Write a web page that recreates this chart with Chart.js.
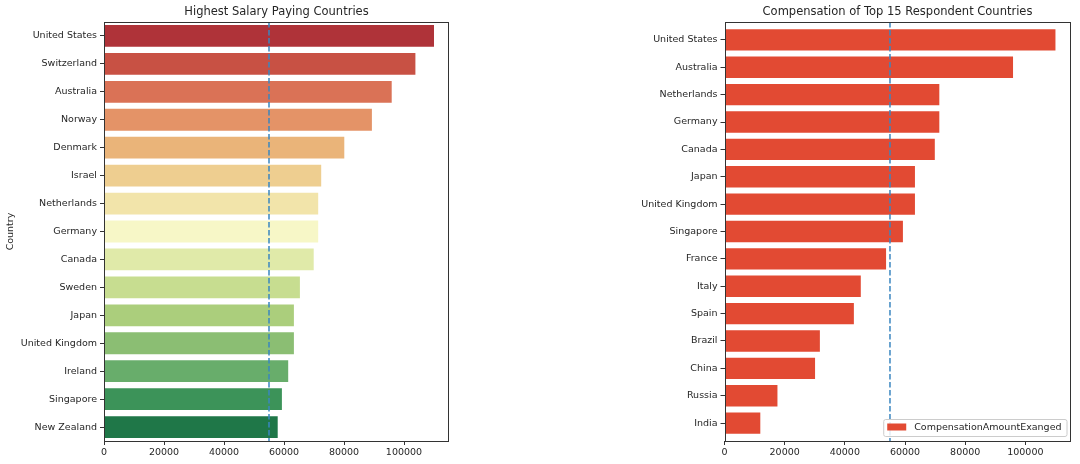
<!DOCTYPE html>
<html><head><meta charset="utf-8">
<script src="https://cdn.jsdelivr.net/npm/chart.js@4.4.0/dist/chart.umd.min.js"></script>
<style>
html,body{margin:0;padding:0;background:#fff;width:1080px;height:464px;overflow:hidden}
.box{position:absolute;top:0;width:540px;height:464px}
</style></head><body>
<div class="box" style="left:0"><canvas id="c1" width="540" height="464"></canvas></div>
<div class="box" style="left:540px"><canvas id="c2" width="540" height="464"></canvas></div>
<script>
// ---- data ----
const salaryCountries = ['United States','Switzerland','Australia','Norway','Denmark','Israel','Netherlands','Germany','Canada','Sweden','Japan','United Kingdom','Ireland','Singapore','New Zealand'];
const salaryValues = [110000,103800,95900,89300,80100,72400,71400,71400,69900,65300,63300,63300,61400,59300,57900];
const respondentCountries = ['United States','Australia','Netherlands','Germany','Canada','Japan','United Kingdom','Singapore','France','Italy','Spain','Brazil','China','Russia','India'];
const respondentValues = [110000,95900,71400,71400,69900,63300,63300,59300,53700,45300,43000,31700,30100,17600,11900];
const salaryMean = 55000;
const respondentMean = 55000;
const xTickValues = [0,20000,40000,60000,80000,100000];
const xMax = 115000;
const legendLabel = 'CompensationAmountExanged';

// ---- colours: seaborn RdYlGn palette, desaturated 0.75 ----
const rdylgn = [[165,0,38],[215,48,39],[244,109,67],[253,174,97],[254,224,139],[255,255,191],[217,239,139],[166,217,106],[102,189,99],[26,152,80],[0,104,55]];
function cmap(t){
  const x = t*10, i = Math.min(9, Math.floor(x)), f = x - i;
  return rdylgn[i].map((c,k)=> (c + (rdylgn[i+1][k]-c)*f)/255);
}
function desat(rgb, prop){
  let [r,g,b] = rgb;
  const mx=Math.max(r,g,b), mn=Math.min(r,g,b);
  let h=0,s=0,l=(mx+mn)/2;
  if(mx!==mn){
    const d=mx-mn;
    s = l<=0.5 ? d/(mx+mn) : d/(2-mx-mn);
    const rc=(mx-r)/d, gc=(mx-g)/d, bc=(mx-b)/d;
    if(r===mx) h=bc-gc; else if(g===mx) h=2+rc-bc; else h=4+gc-rc;
    h=((h/6)%1+1)%1;
  }
  s*=prop;
  function v(m1,m2,hue){hue=((hue%1)+1)%1; if(hue<1/6) return m1+(m2-m1)*hue*6; if(hue<0.5) return m2; if(hue<2/3) return m1+(m2-m1)*(2/3-hue)*6; return m1;}
  if(s===0) return [l,l,l];
  const m2 = l<=0.5 ? l*(1+s) : l+s-l*s, m1 = 2*l-m2;
  return [v(m1,m2,h+1/3), v(m1,m2,h), v(m1,m2,h-1/3)];
}
const n = salaryCountries.length;
const leftColors = salaryCountries.map((_,i)=>{
  const c = desat(cmap((i+1)/(n+1)), 0.75);
  return 'rgb('+c.map(x=>Math.round(x*255)).join(',')+')';
});

const TEXT = '#262626';
const FONT = "'DejaVu Sans', sans-serif";
Chart.defaults.font.family = FONT;
Chart.defaults.color = TEXT;
Chart.defaults.animation = false;

function framePlugin(mean, legend){
  return {
    id:'frame',
    afterDatasetsDraw(chart){
      const {ctx, chartArea:a, scales:{x}} = chart;
      const px = x.getPixelForValue(mean);
      ctx.save();
      ctx.strokeStyle = '#3a86c0';
      ctx.lineWidth = 1.5;
      ctx.setLineDash([5.5,2.5]);
      ctx.beginPath(); ctx.moveTo(px, a.top); ctx.lineTo(px, a.bottom); ctx.stroke();
      ctx.restore();
    },
    afterDraw(chart){
      const {ctx, chartArea:a} = chart;
      ctx.save();
      if(legend){
        ctx.font = '9.5px ' + FONT;
        const tw = ctx.measureText(legend).width;
        const w = tw + 4 + 19 + 8 + 5, h = 17;
        const x0 = a.right - 4 - w, y0 = a.bottom - 5 - h;
        ctx.fillStyle = 'rgba(255,255,255,0.85)';
        ctx.strokeStyle = '#cccccc';
        ctx.lineWidth = 1;
        ctx.beginPath();
        ctx.roundRect(x0+0.5, y0+0.5, w, h, 2);
        ctx.fill(); ctx.stroke();
        ctx.fillStyle = '#e24a33';
        ctx.fillRect(x0+4, y0+4.5, 19, 7);
        ctx.fillStyle = TEXT;
        ctx.textBaseline = 'middle';
        ctx.fillText(legend, x0+31, y0+h/2+0.5);
      }
      ctx.strokeStyle = '#333';
      ctx.lineWidth = 1;
      ctx.setLineDash([]);
      ctx.strokeRect(Math.round(a.left)+0.5, Math.round(a.top)+0.5, Math.round(a.right-a.left)-1, Math.round(a.bottom-a.top));
      ctx.restore();
    }
  };
}

function makeOptions(title, yAxisWidth, padRight, yTitle, catStart, catRange){
  return {
    responsive:false,
    indexAxis:'y',
    layout:{padding:{left:0,right:padRight,top:0,bottom:0}},
    plugins:{
      legend:{display:false},
      tooltip:{enabled:false},
      title:{display:true,fullSize:false,text:title,font:{size:11.5,weight:'normal'},color:TEXT,padding:{top:5,bottom:3.2}}
    },
    scales:{
      x:{
        type:'linear', min:0, max:xMax,
        afterBuildTicks:s=>{ s.ticks = xTickValues.map(v=>({value:v})); },
        afterFit:s=>{ s.height = 23; },
        grid:{display:true, drawOnChartArea:false, drawTicks:true, tickLength:4, tickColor:'#333'},
        border:{display:false},
        ticks:{font:{size:9.5}, color:TEXT, padding:2, maxRotation:0, autoSkip:false, callback:v=>String(v)}
      },
      y:{
        type:'category',
        afterBuildTicks:s=>{ if(catRange){ s._startValue = catStart; s._valueRange = catRange; } },
        afterFit:s=>{ s.width = yAxisWidth; },
        grid:{display:true, offset:false, drawOnChartArea:false, drawTicks:true, tickLength:4, tickColor:'#333'},
        border:{display:false},
        ticks:{font:{size:9.5}, color:TEXT, padding:3, autoSkip:false},
        title:{display:!!yTitle, text:yTitle, font:{size:9.5}, color:TEXT, padding:{top:5,bottom:0}}
      }
    }
  };
}

new Chart(document.getElementById('c1'), {
  type:'bar',
  data:{labels:salaryCountries, datasets:[{data:salaryValues, backgroundColor:leftColors, borderWidth:0, barPercentage:0.78, categoryPercentage:1}]},
  options:makeOptions('Highest Salary Paying Countries', 104, 91, 'Country', null, null),
  plugins:[framePlugin(salaryMean, null)]
});

new Chart(document.getElementById('c2'), {
  type:'bar',
  data:{labels:respondentCountries, datasets:[{label:legendLabel, data:respondentValues, backgroundColor:'#e24a33', borderWidth:0, barPercentage:0.78, categoryPercentage:1}]},
  options:makeOptions('Compensation of Top 15 Respondent Countries', 184.5, 9.5, '', -0.655, 15.31),
  plugins:[framePlugin(respondentMean, legendLabel)]
});
</script>
</body></html>
